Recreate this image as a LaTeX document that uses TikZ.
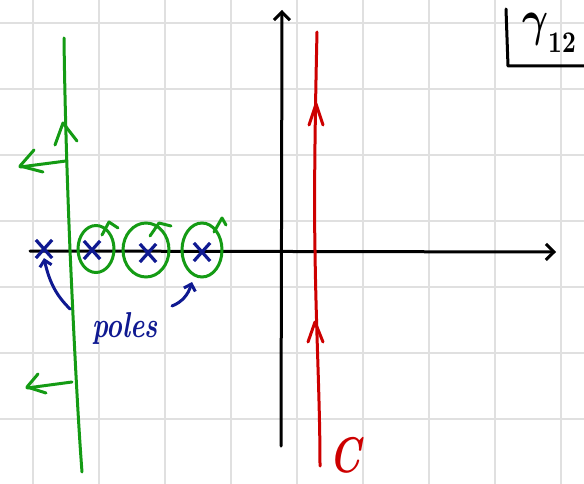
\documentclass[tikz,border=0pt]{standalone}
\usepackage{amsmath,amssymb,bm}
\usetikzlibrary{arrows.meta,shapes.misc,shapes.geometric}
\definecolor{gridc}{RGB}{224,224,224}
\definecolor{pgreen}{RGB}{20,155,20}
\definecolor{pred}{RGB}{205,0,0}
\definecolor{pblue}{RGB}{15,25,145}
\begin{document}
\begin{tikzpicture}[x=1pt,y=-1pt,
  gridline/.style={gridc,line width=1.8pt},
  axisline/.style={black,line width=3pt,line cap=round,-{Straight Barb[length=8pt,width=16pt,line width=3pt]}},
  redline/.style={pred,line width=3pt,line cap=round,line join=round},
  greenline/.style={pgreen,line width=3pt,line cap=round,line join=round},
  pole/.style={cross out,draw=pblue,line width=3.2pt,minimum width=13pt,minimum height=15pt,inner sep=0pt},
  loop/.style={ellipse,draw=pgreen,line width=3pt,inner sep=0pt},
  bluearrow/.style={pblue,line width=3pt,line cap=round,-{Straight Barb[length=6pt,width=12pt,line width=3pt]}},
  lbl/.style={inner sep=0pt}]
\useasboundingbox (0,0) rectangle (584,484);
\fill[white] (0,0) rectangle (584,484);
% grid
\foreach \gx in {33,99,165,231,297,363,429,495,561} \draw[gridline] (\gx,0) -- (\gx,484);
\foreach \gy in {23,89,155,221,287,353,419} \draw[gridline] (0,\gy) -- (584,\gy);
% axes
\coordinate (xs) at (30,251);
\coordinate (xe) at (556,252);
\coordinate (ys) at (281,446);
\coordinate (ye) at (282,10);
\draw[axisline] (xs) -- (xe);
\draw[axisline] (ys) -- (ye);
% red contour C
\coordinate (r1) at (317,32);
\coordinate (r2) at (315,250);
\coordinate (r3) at (320,466);
\draw[redline] (r1) .. controls (315,120) and (314,200) .. (r2) .. controls (316,330) and (320,400) .. (r3);
\draw[redline] (309,125) -- (316,104) -- (323,125);
\draw[redline] (308,342) -- (315,322) -- (323,342);
\node[lbl,text=pred,xscale=3.8,yscale=5,font=\bfseries\itshape] (C) at (345,455) {C};
% green contour
\coordinate (g1) at (64,38);
\coordinate (g2) at (70,250);
\coordinate (g3) at (82,472);
\draw[greenline] (g1) .. controls (65,120) and (68,200) .. (g2) .. controls (74,340) and (78,420) .. (g3);
\draw[greenline] (55,145) -- (63,123) -- (77,141);
\coordinate (la1) at (66,161);
\coordinate (la2) at (20,167);
\draw[greenline] (la1) -- (la2);
\draw[greenline] (34,150) -- (20,166) -- (43,172);
\coordinate (lb1) at (72,382);
\coordinate (lb2) at (27,388);
\draw[greenline] (lb1) -- (lb2);
\draw[greenline] (38,374) -- (27,387) -- (46,393);
% loops around poles
\node[loop,minimum width=36pt,minimum height=47pt] (c1) at (96,249) {};
\node[loop,minimum width=46pt,minimum height=54pt] (c2) at (146,250) {};
\node[loop,minimum width=40pt,minimum height=54pt] (c3) at (202,250) {};
\draw[greenline] (102,235) -- (109,222) -- (118,228);
\draw[greenline] (150,236) -- (159,223) -- (171,226);
\draw[greenline] (214,232) -- (222,218) -- (226,225);
% poles
\node[pole] (p0) at (44,249) {};
\node[pole] (p1) at (92,250) {};
\node[pole] (p2) at (148,253) {};
\node[pole] (p3) at (202,252) {};
% label poles
\node[lbl,text=pblue,xscale=2.7,yscale=3.6,font=\bfseries\itshape] (poles) at (125,328) {poles};
\draw[bluearrow] (70,309) .. controls (58,297) and (50,285) .. (p0.south);
\draw[bluearrow] (172,306) .. controls (182,302) and (188,295) .. (192,282);
% gamma label box corner
\coordinate (b1) at (506,9);
\coordinate (b2) at (508,66);
\coordinate (b3) at (584,66);
\draw[black,line width=3pt,line cap=round,line join=round] (b1) -- (b2) -- (b3);
\node[lbl,xscale=4,yscale=5] (gam) at (536,29) {$\bm{\gamma}$};
\node[lbl,xscale=2.4,yscale=3,font=\bfseries] (sub) at (562,43) {12};
\end{tikzpicture}
\end{document}
